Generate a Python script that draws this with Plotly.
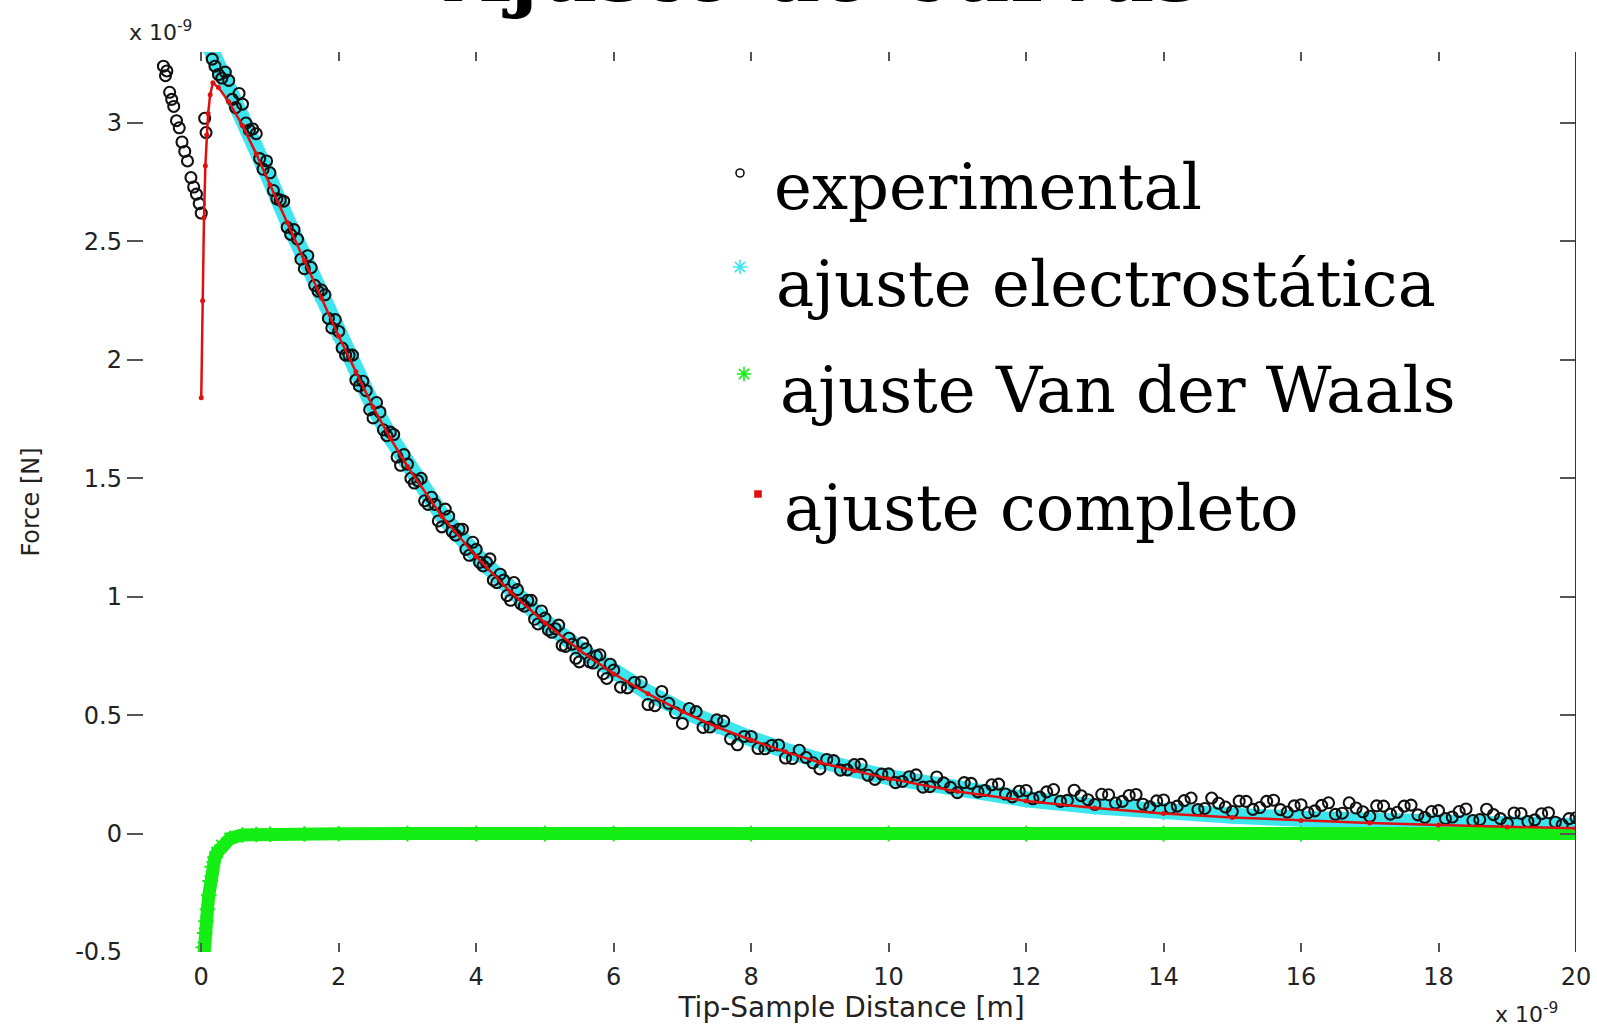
import plotly.graph_objects as go

# ---- experimental data (force vs. tip-sample distance, both x 1e-9) ----
exp_x = [
    -0.55, -0.52, -0.50, -0.46, -0.43, -0.40, -0.36, -0.32, -0.28, -0.24,
    -0.20, -0.15, -0.11, -0.07, -0.03, 0.00, 0.05, 0.07, 0.16,
    0.2, 0.3, 0.4, 0.5, 0.6, 0.7, 0.8, 0.9, 1.0, 1.1,
    1.2, 1.3, 1.4, 1.5, 1.6, 1.7, 1.8, 1.9, 2.0, 2.1,
    2.2, 2.3, 2.4, 2.5, 2.6, 2.7, 2.8, 2.9, 3.0, 3.1,
    3.2, 3.3, 3.4, 3.5, 3.6, 3.7, 3.8, 3.9, 4.0, 4.1,
    4.2, 4.3, 4.4, 4.5, 4.6, 4.7, 4.8, 4.9, 5.0, 5.1,
    5.2, 5.3, 5.4, 5.5, 5.6, 5.7, 5.8, 5.9, 6.0,
    6.2, 6.4, 6.6, 6.8, 7.0, 7.2, 7.4, 7.6, 7.8, 8.0,
    8.2, 8.4, 8.6, 8.8, 9.0, 9.2, 9.4, 9.6, 9.8, 10.0,
    10.2, 10.4, 10.6, 10.8, 11.0, 11.2, 11.4, 11.6, 11.8, 12.0,
    12.2, 12.4, 12.6, 12.8, 13.0, 13.2, 13.4, 13.6, 13.8, 14.0,
    14.2, 14.4, 14.6, 14.8, 15.0, 15.2, 15.4, 15.6, 15.8, 16.0,
    16.2, 16.4, 16.6, 16.8, 17.0, 17.2, 17.4, 17.6, 17.8, 18.0,
    18.2, 18.4, 18.6, 18.8, 19.0, 19.2, 19.4, 19.6, 19.8, 20.0,
    0.25, 0.35, 0.45, 0.55, 0.65, 0.75, 0.85, 0.95, 1.05, 1.15,
    1.25, 1.35, 1.45, 1.55, 1.65, 1.75, 1.85, 1.95, 2.05, 2.15,
    2.25, 2.35, 2.45, 2.55, 2.65, 2.75, 2.85, 2.95, 3.05, 3.15,
    3.25, 3.35, 3.45, 3.55, 3.65, 3.75, 3.85, 3.95, 4.05, 4.15,
    4.25, 4.35, 4.45, 4.55, 4.65, 4.75, 4.85, 4.95, 5.05, 5.15,
    5.25, 5.35, 5.45, 5.55, 5.65, 5.75, 5.85, 5.95,
    6.1, 6.3, 6.5, 6.7, 6.9, 7.1, 7.3, 7.5, 7.7, 7.9,
    8.1, 8.3, 8.5, 8.7, 8.9, 9.1, 9.3, 9.5, 9.7, 9.9,
    10.1, 10.3, 10.5, 10.7, 10.9, 11.1, 11.3, 11.5, 11.7, 11.9,
    12.1, 12.3, 12.5, 12.7, 12.9, 13.1, 13.3, 13.5, 13.7, 13.9,
    14.1, 14.3, 14.5, 14.7, 14.9, 15.1, 15.3, 15.5, 15.7, 15.9,
    16.1, 16.3, 16.5, 16.7, 16.9, 17.1, 17.3, 17.5, 17.7, 17.9,
    18.1, 18.3, 18.5, 18.7, 18.9, 19.1, 19.3, 19.5, 19.7, 19.9,
]
exp_y = [
    3.24, 3.20, 3.22, 3.13, 3.10, 3.07, 3.01, 2.98, 2.92, 2.88,
    2.84, 2.77, 2.73, 2.70, 2.66, 2.62, 3.02, 2.96, 3.27,
    3.24, 3.19, 3.18, 3.065, 3.08, 2.97, 2.955, 2.805, 2.79, 2.68,
    2.67, 2.53, 2.51, 2.385, 2.39, 2.29, 2.275, 2.135, 2.12, 2.02,
    2.02, 1.89, 1.87, 1.755, 1.78, 1.68, 1.685, 1.555, 1.56, 1.48,
    1.50, 1.39, 1.39, 1.295, 1.34, 1.26, 1.285, 1.175, 1.20, 1.13,
    1.16, 1.06, 1.07, 0.985, 1.03, 0.96, 0.985, 0.885, 0.91, 0.85,
    0.88, 0.79, 0.80, 0.725, 0.78, 0.72, 0.755, 0.655, 0.69,
    0.615, 0.64, 0.54, 0.55, 0.465, 0.515, 0.45, 0.475, 0.375, 0.41,
    0.358, 0.374, 0.317, 0.321, 0.273, 0.308, 0.269, 0.292, 0.229, 0.252,
    0.220, 0.248, 0.198, 0.214, 0.173, 0.212, 0.182, 0.209, 0.155, 0.182,
    0.154, 0.186, 0.140, 0.160, 0.123, 0.164, 0.136, 0.165, 0.113, 0.142,
    0.116, 0.150, 0.106, 0.128, 0.093, 0.136, 0.110, 0.141, 0.091, 0.122,
    0.096, 0.130, 0.086, 0.108, 0.073, 0.116, 0.090, 0.120, 0.068, 0.097,
    0.070, 0.104, 0.059, 0.080, 0.043, 0.085, 0.058, 0.088, 0.037, 0.067,
    3.205, 3.215, 3.10, 3.125, 3.00, 2.975, 2.85, 2.84, 2.715, 2.675,
    2.56, 2.55, 2.425, 2.44, 2.315, 2.295, 2.175, 2.17, 2.05, 2.02,
    1.915, 1.91, 1.79, 1.82, 1.705, 1.695, 1.59, 1.60, 1.50, 1.49,
    1.405, 1.42, 1.32, 1.37, 1.275, 1.285, 1.20, 1.23, 1.145, 1.145,
    1.07, 1.095, 1.005, 1.06, 0.97, 0.985, 0.905, 0.94, 0.86, 0.865,
    0.795, 0.825, 0.74, 0.805, 0.725, 0.75, 0.675, 0.715,
    0.618, 0.638, 0.545, 0.60, 0.51, 0.528, 0.448, 0.48, 0.40, 0.41,
    0.359, 0.372, 0.319, 0.352, 0.299, 0.313, 0.268, 0.291, 0.246, 0.251,
    0.215, 0.240, 0.196, 0.239, 0.195, 0.215, 0.176, 0.206, 0.167, 0.179,
    0.147, 0.176, 0.136, 0.183, 0.143, 0.166, 0.129, 0.161, 0.124, 0.138,
    0.108, 0.139, 0.101, 0.150, 0.112, 0.137, 0.102, 0.136, 0.101, 0.117,
    0.088, 0.119, 0.081, 0.130, 0.092, 0.117, 0.082, 0.116, 0.079, 0.093,
    0.063, 0.093, 0.055, 0.103, 0.063, 0.087, 0.051, 0.084, 0.048, 0.063,
]

# ---- electrostatic fit ----
elec_x = [0.0, 0.05, 0.1, 0.15, 0.2, 0.3, 0.4, 0.6, 0.8, 1.0, 1.25, 1.5, 1.75,
          2.0, 2.25, 2.5, 2.75, 3.0, 3.5, 4.0, 4.5, 5.0, 5.5, 6.0, 6.5, 7.0,
          7.5, 8.0, 8.5, 9.0, 9.5, 10, 11, 12, 13, 14, 15, 16, 17, 18, 19, 20]
elec_y = [3.42, 3.37, 3.33, 3.30, 3.27, 3.21, 3.15, 3.02, 2.89, 2.76, 2.59, 2.43,
          2.27, 2.11, 1.955, 1.805, 1.675, 1.555, 1.345, 1.175, 1.025, 0.895,
          0.78, 0.68, 0.595, 0.52, 0.455, 0.40, 0.35, 0.305, 0.27, 0.238, 0.184,
          0.145, 0.115, 0.092, 0.075, 0.063, 0.053, 0.045, 0.038, 0.032]

# ---- Van der Waals fit ----
vdw_x = [0.02, 0.03, 0.05, 0.07, 0.09, 0.11, 0.13, 0.16, 0.2, 0.23, 0.3, 0.42,
         0.6, 0.8, 1.0, 1.5, 2, 3, 4, 5, 6, 8, 10, 12, 14, 16, 18, 20]
vdw_y = [-0.60, -0.48, -0.42, -0.37, -0.32, -0.26, -0.20, -0.14, -0.10, -0.08,
         -0.05, -0.02, -0.006, -0.004, -0.003, -0.002, -0.001, 0, 0, 0, 0, 0,
         0, 0, 0, 0, 0, 0]

# ---- complete fit ----
full_x = [0.0, 0.02, 0.04, 0.06, 0.08, 0.10, 0.13, 0.17, 0.25, 0.4, 0.6, 0.8,
          1.0, 1.25, 1.5, 1.75, 2.0, 2.25, 2.5, 2.75, 3.0, 3.5, 4.0, 4.5, 5.0,
          5.5, 6.0, 6.5, 7.0, 7.5, 8.0, 8.5, 9.0, 9.5, 10, 11, 12, 13, 14, 15,
          16, 17, 18, 19, 20]
full_y = [1.84, 2.25, 2.60, 2.82, 2.95, 3.04, 3.12, 3.17, 3.15, 3.09, 2.99, 2.87,
          2.74, 2.58, 2.42, 2.26, 2.10, 1.95, 1.80, 1.67, 1.55, 1.34, 1.17, 1.02,
          0.89, 0.775, 0.675, 0.59, 0.515, 0.45, 0.395, 0.345, 0.30, 0.265,
          0.232, 0.178, 0.138, 0.108, 0.085, 0.068, 0.055, 0.045, 0.036, 0.028,
          0.022]

# ---- ticks ----
x_ticks = [0, 2, 4, 6, 8, 10, 12, 14, 16, 18, 20]
x_ticklabels = ["0", "2", "4", "6", "8", "10", "12", "14", "16", "18", "20"]
y_ticks = [-0.5, 0, 0.5, 1, 1.5, 2, 2.5, 3]
y_ticklabels = ["-0.5", "0", "0.5", "1", "1.5", "2", "2.5", "3"]

legend_labels = ["experimental", "ajuste electrostática",
                 "ajuste Van der Waals", "ajuste completo"]

CYAN = "#3de6ee"
GREEN = "#14ee14"
RED = "#e01010"
BLACK = "#111111"

# plot area in page pixels
PX_L, PX_R, PX_T, PX_B = 127, 1576, 52, 952


def paper_x(px):
    return (px - PX_L) / (PX_R - PX_L)


def paper_y(py):
    return (PX_B - py) / (PX_B - PX_T)


fig = go.Figure()

fig.add_trace(go.Scatter(
    x=elec_x, y=elec_y, mode="lines+markers",
    line=dict(color=CYAN, width=16),
    marker=dict(symbol="asterisk-open", size=14, color=CYAN,
                line=dict(color=CYAN, width=2)),
))
fig.add_trace(go.Scatter(
    x=exp_x, y=exp_y, mode="markers",
    marker=dict(symbol="circle-open", size=11, color=BLACK,
                line=dict(color=BLACK, width=2.1)),
))
fig.add_trace(go.Scatter(
    x=vdw_x, y=vdw_y, mode="lines+markers",
    line=dict(color=GREEN, width=13),
    marker=dict(symbol="asterisk-open", size=13, color=GREEN,
                line=dict(color=GREEN, width=2)),
))
fig.add_trace(go.Scatter(
    x=full_x, y=full_y, mode="lines+markers",
    line=dict(color=RED, width=2.5),
    marker=dict(symbol="circle", size=5, color=RED),
))

# legend drawn on a pixel-space overlay
leg_mx = [740, 740, 744, 758]
leg_my = [173, 267, 374, 494]
leg_sym = ["circle-open", "asterisk-open", "asterisk-open", "square"]
leg_col = [BLACK, CYAN, GREEN, RED]
leg_size = [8, 12, 12, 6]
for mx, my, sym, col, sz in zip(leg_mx, leg_my, leg_sym, leg_col, leg_size):
    fig.add_trace(go.Scatter(
        x=[mx], y=[my], xaxis="x2", yaxis="y2", mode="markers",
        cliponaxis=False,
        marker=dict(symbol=sym, size=sz, color=col, line=dict(color=col, width=1.6)),
    ))

leg_tx = [772, 774, 778, 782]
leg_ty = [187, 284, 390, 508]
annotations = []
for lbl, tx, ty in zip(legend_labels, leg_tx, leg_ty):
    annotations.append(dict(
        text=lbl, x=paper_x(tx), y=paper_y(ty), xref="paper", yref="paper",
        xanchor="left", yanchor="middle", showarrow=False,
        font=dict(family="DejaVu Serif", size=64, color="#000000"),
    ))

# figure title, running off the top edge
annotations.append(dict(
    text="<b>Ajuste de curvas</b>", x=paper_x(822), y=paper_y(-28),
    xref="paper", yref="paper", xanchor="center", yanchor="middle",
    showarrow=False,
    font=dict(family="DejaVu Serif", size=82, color="#000000"),
))

# exponent labels of both axes
annotations.append(dict(
    text="x 10<sup>-9</sup>", x=paper_x(127), y=paper_y(31),
    xref="paper", yref="paper", xanchor="left", yanchor="middle",
    showarrow=False,
    font=dict(family="DejaVu Sans", size=22, color="#222222"),
))
annotations.append(dict(
    text="x 10<sup>-9</sup>", x=paper_x(1493), y=paper_y(1013),
    xref="paper", yref="paper", xanchor="left", yanchor="middle",
    showarrow=False,
    font=dict(family="DejaVu Sans", size=22, color="#222222"),
))

tickfont = dict(family="DejaVu Sans", size=24, color="#222222")

fig.update_layout(
    width=1597, height=1027,
    margin=dict(l=PX_L, r=1597 - PX_R, t=PX_T, b=1027 - PX_B),
    paper_bgcolor="white", plot_bgcolor="white",
    showlegend=False,
    annotations=annotations,
    shapes=[dict(type="line", xref="x", yref="paper", x0=20, x1=20, y0=0, y1=1,
                 line=dict(color="#333333", width=2))],
    xaxis=dict(
        range=[-1.08, 20], tickvals=x_ticks, ticktext=x_ticklabels,
        ticks="inside", ticklen=9, tickwidth=1.5, tickcolor="#555555",
        mirror="ticks", showline=False, showgrid=False, zeroline=False,
        tickfont=tickfont, ticklabelstandoff=8, automargin=False,
        title=dict(text="Tip-Sample Distance [m]",
                   font=dict(family="DejaVu Sans", size=28, color="#222222"),
                   standoff=6),
    ),
    yaxis=dict(
        range=[-0.5, 3.3], tickvals=y_ticks, ticktext=y_ticklabels,
        ticks="inside", ticklen=16, tickwidth=1.5, tickcolor="#555555",
        mirror="ticks", showline=False, showgrid=False, zeroline=False,
        tickfont=tickfont, ticklabelstandoff=4, automargin=False,
        title=dict(text="Force [N]",
                   font=dict(family="DejaVu Sans", size=24, color="#222222"),
                   standoff=28),
    ),
    xaxis2=dict(overlaying="x", anchor="y2", range=[PX_L, PX_R], visible=False),
    yaxis2=dict(overlaying="y", anchor="x2", range=[PX_B, PX_T], visible=False),
)

fig.write_html("out.html")
